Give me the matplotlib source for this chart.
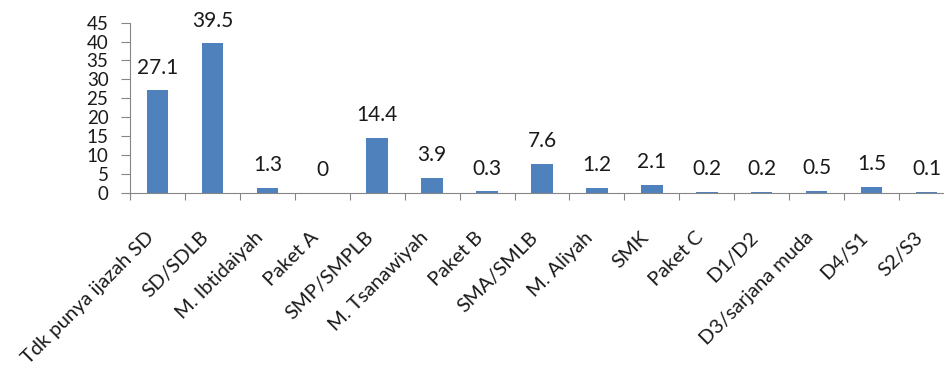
import numpy as np
import matplotlib.pyplot as plt

categories = ["Tdk punya ijazah SD", "SD/SDLB", "M. Ibtidaiyah", "Paket A",
              "SMP/SMPLB", "M. Tsanawiyah", "Paket B", "SMA/SMLB", "M. Aliyah",
              "SMK", "Paket C", "D1/D2", "D3/sarjana muda", "D4/S1", "S2/S3"]
values = [27.1, 39.5, 1.3, 0, 14.4, 3.9, 0.3, 7.6, 1.2, 2.1, 0.2, 0.2, 0.5, 1.5, 0.1]
value_labels = ["27.1", "39.5", "1.3", "0", "14.4", "3.9", "0.3", "7.6", "1.2",
                "2.1", "0.2", "0.2", "0.5", "1.5", "0.1"]

plt.rcParams['font.family'] = ['Lato', 'DejaVu Sans']
txt_color = "#1a1a1a"
axis_gray = "#868686"

W, H = 945, 376
fig = plt.figure(figsize=(W / 100, H / 100), dpi=100)
# axes box in pixels (the last category is cut off by the right edge in the original)
left, right, top, bottom = 130, 954, 22.7, 192.5
ax = fig.add_axes([left / W, 1 - bottom / H, (right - left) / W, (bottom - top) / H])

x = np.arange(len(categories))
ax.bar(x, values, width=0.39, color="#4F81BD")
for xi, v, lab in zip(x, values, value_labels):
    ax.annotate(lab, (xi, v), xytext=(0, 12), textcoords="offset points",
                ha="center", va="baseline", fontsize=15, color=txt_color)

ax.set_xlim(-0.5, len(categories) - 0.5)
ax.set_ylim(0, 45)
ax.set_yticks(np.arange(0, 46, 5))
ax.tick_params(axis="y", labelsize=13.5, length=6.5, color=axis_gray, pad=9,
               labelcolor=txt_color)

# tick marks sit between the categories
ax.set_xticks(np.arange(-0.5, len(categories), 1))
ax.set_xticklabels([])
ax.tick_params(axis="x", length=5, color=axis_gray)
for xi, lab in zip(x, categories):
    ax.annotate(lab, (xi, 0), xytext=(-9, -26), textcoords="offset points",
                rotation=45, ha="right", va="top", rotation_mode="anchor",
                fontsize=14.5, color=txt_color, annotation_clip=False)

for s in ["top", "right"]:
    ax.spines[s].set_visible(False)
for s in ["left", "bottom"]:
    ax.spines[s].set_color(axis_gray)

fig.savefig("out.png", dpi=100)
